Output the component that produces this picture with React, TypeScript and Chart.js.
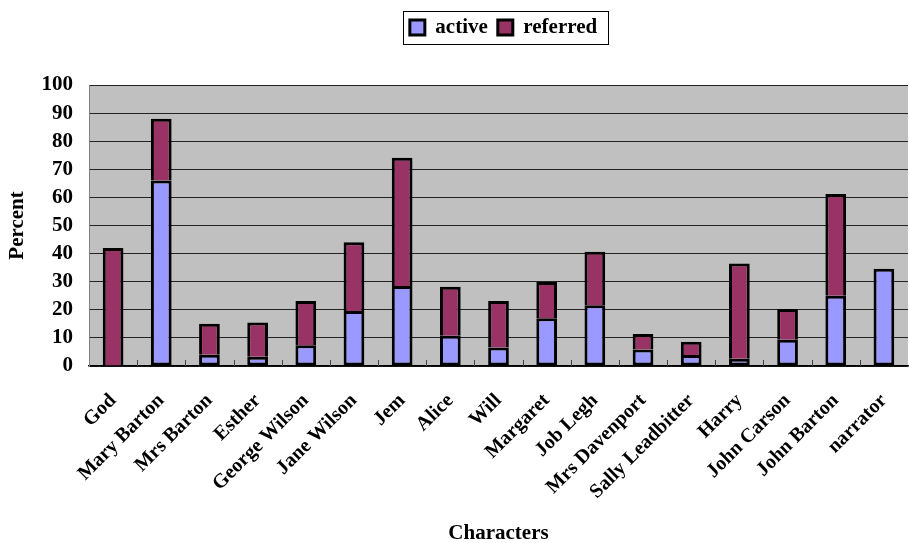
import React, { useEffect, useRef } from "react";
import { Chart, registerables } from "chart.js";

Chart.register(...registerables);

const characters = [
  "God",
  "Mary Barton",
  "Mrs Barton",
  "Esther",
  "George Wilson",
  "Jane Wilson",
  "Jem",
  "Alice",
  "Will",
  "Margaret",
  "Job Legh",
  "Mrs Davenport",
  "Sally Leadbitter",
  "Harry",
  "John Carson",
  "John Barton",
  "narrator",
];

const active = [0, 66, 4, 3.3, 7.4, 19.6, 28.5, 10.8, 6.6, 17, 21.6, 5.9, 3.9, 2.6, 9.3, 25, 34.6];
const referred = [42, 22, 11, 12.2, 15.7, 24.4, 45.6, 17.4, 16.5, 12.9, 19.1, 5.5, 4.7, 33.9, 11, 36.2, 0];

const yMin = 0;
const yMax = 100;
const yStep = 10;

const SERIF = "'Liberation Serif', 'Times New Roman', serif";

// Grey plot background behind the bars
const plotBackground = {
  id: "plotBackground",
  beforeDraw(chart: any) {
    const { ctx, chartArea } = chart;
    ctx.save();
    ctx.fillStyle = "#C0C0C0";
    ctx.fillRect(chartArea.left, chartArea.top, chartArea.right - chartArea.left, chartArea.bottom - chartArea.top);
    ctx.restore();
  },
};

// Extra space between the legend and the plot, and a small nudge to the right
const legendPlacement = {
  id: "legendPlacement",
  beforeInit(chart: any) {
    const legend = chart.legend;
    if (!legend) return;
    const fit = legend.fit;
    legend.fit = function () {
      fit.call(this);
      this.height += 37;
    };
  },
  afterLayout(chart: any) {
    const legend = chart.legend;
    if (!legend) return;
    legend.left += 5;
    legend.right += 5;
  },
};

// Short tick marks between categories, pointing up into the plot
const categoryTicks = {
  id: "categoryTicks",
  afterDatasetsDraw(chart: any) {
    const { ctx, chartArea } = chart;
    const x = chart.scales.x;
    const n = chart.data.labels.length;
    const half = (x.getPixelForValue(1) - x.getPixelForValue(0)) / 2;
    ctx.save();
    ctx.strokeStyle = "#404040";
    ctx.lineWidth = 1;
    for (let i = 1; i < n; i++) {
      const px = Math.round(x.getPixelForValue(i) - half) + 0.5;
      ctx.beginPath();
      ctx.moveTo(px, chartArea.bottom);
      ctx.lineTo(px, chartArea.bottom - 6);
      ctx.stroke();
    }
    ctx.restore();
  },
};

// Frame around the legend entries
const legendFrame = {
  id: "legendFrame",
  afterDraw(chart: any) {
    const legend = chart.legend;
    if (!legend || !legend.legendHitBoxes || !legend.legendHitBoxes.length) return;
    const boxes = legend.legendHitBoxes;
    let l = Infinity, r = -Infinity, t = Infinity, b = -Infinity;
    for (const h of boxes) {
      l = Math.min(l, h.left);
      r = Math.max(r, h.left + h.width);
      t = Math.min(t, h.top);
      b = Math.max(b, h.top + h.height);
    }
    const cy = (t + b) / 2;
    const { ctx } = chart;
    ctx.save();
    ctx.strokeStyle = "#000";
    ctx.lineWidth = 1;
    ctx.strokeRect(Math.round(l - 7) + 0.5, Math.round(cy - 17) + 0.5, Math.round(r - l + 18), 33);
    ctx.restore();
  },
};

export default function App() {
  const canvasRef = useRef<HTMLCanvasElement | null>(null);

  useEffect(() => {
    document.body.style.margin = "0";
    const canvas = canvasRef.current;
    if (!canvas) return;
    const common = {
      borderColor: "#000",
      borderWidth: 3,
      barPercentage: 0.43,
      categoryPercentage: 1,
    };
    const chart = new Chart(canvas, {
      type: "bar",
      data: {
        labels: characters,
        datasets: [
          {
            label: "active",
            data: active,
            backgroundColor: "#9999FF",
            borderSkipped: false,
            ...common,
          },
          {
            label: "referred",
            data: referred,
            backgroundColor: "#993366",
            borderSkipped: "start",
            ...common,
          },
        ],
      },
      options: {
        responsive: false,
        animation: false,
        maintainAspectRatio: false,
        layout: { padding: { top: 7, right: 1, left: 5, bottom: 0 } },
        plugins: {
          tooltip: { enabled: false },
          legend: {
            position: "top",
            fullSize: false,
            labels: {
              color: "#000",
              boxWidth: 15,
              boxHeight: 15,
              padding: 10,
              font: { family: SERIF, size: 21, weight: "bold" },
            },
          },
        },
        scales: {
          x: {
            stacked: true,
            grid: { display: false, drawTicks: false },
            border: { display: true, color: "#000", width: 1.5 },
            afterFit(scale: any) {
              // fixed band for the rotated names and the axis title
              scale.height = 177;
              scale.paddingLeft = 0;
              scale.paddingRight = 0;
            },
            ticks: {
              color: "#000",
              minRotation: 45,
              maxRotation: 45,
              autoSkip: false,
              padding: 23,
              font: { family: SERIF, size: 20, weight: "bold" },
            },
            title: {
              display: true,
              text: "Characters",
              color: "#000",
              padding: { top: 0, bottom: -3 },
              font: { family: SERIF, size: 21, weight: "bold" },
            },
          },
          y: {
            stacked: true,
            min: yMin,
            max: yMax,
            afterFit(scale: any) {
              scale.width = 84;
            },
            grid: { color: "#222", lineWidth: 1, drawTicks: false },
            border: { display: true, color: "#808080", width: 1 },
            ticks: {
              stepSize: yStep,
              autoSkip: false,
              color: "#000",
              padding: 16,
              font: { family: SERIF, size: 21, weight: "bold" },
            },
            title: {
              display: true,
              text: "Percent",
              color: "#000",
              padding: { top: 0, bottom: 12 },
              font: { family: SERIF, size: 21, weight: "bold" },
            },
          },
        },
      },
      plugins: [plotBackground, legendPlacement, categoryTicks, legendFrame],
    });
    return () => chart.destroy();
  }, []);

  return (
    <div style={{ position: "relative", width: 909, height: 543 }}>
      <canvas ref={canvasRef} width={909} height={543} />
    </div>
  );
}
